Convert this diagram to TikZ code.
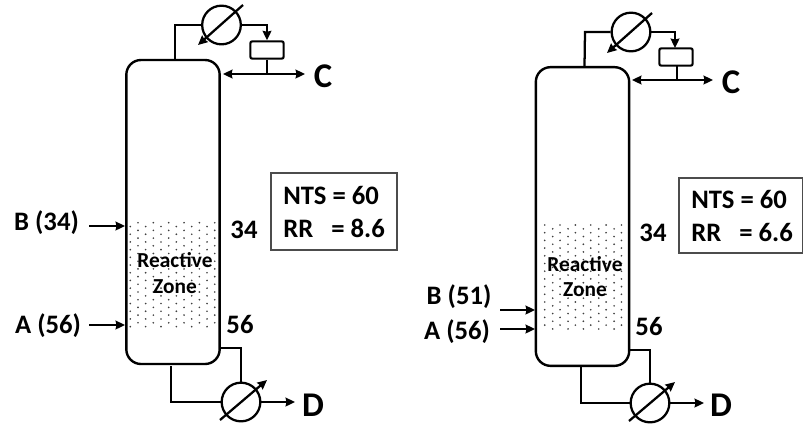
\documentclass[tikz,border=0pt]{standalone}
\usepackage{fontspec}
\setmainfont{Carlito}
\usetikzlibrary{arrows.meta}
\tikzset{
  line/.style={line width=1.7pt, black},
  flow/.style={line, -{Stealth[length=7pt,width=6.5pt,inset=0.6pt]}},
  bothflow/.style={line, {Stealth[length=7pt,width=6.5pt,inset=0.6pt]}-{Stealth[length=7pt,width=6.5pt,inset=0.6pt]}},
  column/.style={draw, line width=1.8pt, rounded corners=11pt, minimum width=70pt, inner sep=0pt},
  exchanger/.style={draw, line width=1.7pt, circle, minimum size=29pt, inner sep=0pt},
  drum/.style={draw, line width=1.6pt, rounded corners=1.5pt, minimum width=25pt, minimum height=13pt, inner sep=0pt},
  label/.style={font=\bfseries\fontsize{20}{24}\selectfont, inner sep=0pt},
  bigletter/.style={font=\bfseries\fontsize{26}{30}\selectfont, inner sep=0pt},
  zonetext/.style={font=\bfseries\fontsize{16}{19}\selectfont, inner sep=0pt},
  infobox/.style={draw=black!70, line width=1pt, inner sep=0pt},
}
% dotted reactive section: even rows start at #1, odd rows at #2, #4 = last dot of odd rows
\newcommand{\zonedots}[4]{%
  \foreach \row in {0,...,27} {
    \ifodd\row
      \foreach \col in {0,...,#4} {
        \fill[black!75] (#2+\col*15.35,#3+\row*3.85) circle (0.7pt);
      }
    \else
      \foreach \col in {0,...,5} {
        \fill[black!75] (#1+\col*15.35,#3+\row*3.85) circle (0.7pt);
      }
    \fi
  }
}
\begin{document}
\begin{tikzpicture}[x=0.75pt, y=-0.75pt]
    \useasboundingbox (0,0) rectangle (803,426);

    % left column
    \zonedots{138}{130.3}{222.7}{5}
    \node[column, minimum height=228pt] (col1) at (173,212) {};
    \node[exchanger] (cond1) at (221.5,25) {};
    \node[exchanger] (reb1) at (241,402) {};
    \node[drum] (drum1) at (267,50) {};
    \coordinate (top1) at (175,59.5);
    \coordinate (bot1) at (171,366);
    \coordinate (side1) at (220,348);
    \coordinate (tee1) at (267,74);
    \coordinate (in1a) at (125,325);
    \coordinate (in1b) at (125,226);
    \draw[line] (top1) -- (175,25) -- (cond1.west);
    \draw[flow] (cond1.east) -- (267,25) -- (drum1.north);
    \draw[line] (drum1.south) -- (tee1);
    \draw[bothflow] (223,74) -- (305,74);
    \draw[flow] (243,5) -- (198,45);
    \draw[line] (bot1) -- (171,402) -- (reb1.west);
    \draw[line] (side1) -- (241,348) -- (reb1.north);
    \draw[flow] (220,420) -- (267,380);
    \draw[flow] (reb1.east) -- (295,402);
    \draw[flow] (89,226) -- (in1b);
    \draw[flow] (89,325) -- (in1a);
    \node[bigletter] (c1) at (323,76) {C};
    \node[bigletter] (d1) at (313,405) {D};
    \node[label] (b1) at (46.5,223) {B (34)};
    \node[label] (a1) at (48,326) {A (56)};
    \node[label] (n1) at (244,230) {34};
    \node[label] (m1) at (240,324) {56};
    \node[zonetext] (r1) at (175,260) {Reactive};
    \node[zonetext] (z1) at (175,287) {Zone};
    \draw[infobox] (271,173) rectangle (397,250);
    \node[label, anchor=west] (nts1) at (283,195) {NTS = 60};
    \node[label, anchor=west] (rr1) at (283,228) {RR\ \ \ = 8.6};

    % right column
    \zonedots{544.7}{552.7}{225}{4}
    \node[column, minimum height=224pt] (col2) at (582.5,216.5) {};
    \node[exchanger] (cond2) at (631,32) {};
    \node[exchanger] (reb2) at (650,403) {};
    \node[drum] (drum2) at (676,57) {};
    \coordinate (top2) at (584.5,66.5);
    \coordinate (bot2) at (581,366);
    \coordinate (side2) at (629,350);
    \coordinate (tee2) at (677,80);
    \coordinate (in2a) at (535,329);
    \coordinate (in2b) at (535,310);
    \draw[line] (top2) -- (585,32) -- (cond2.west);
    \draw[flow] (cond2.east) -- (675,32) -- (675,48);
    \draw[line] (677,66) -- (tee2);
    \draw[bothflow] (632,80) -- (713,80);
    \draw[flow] (652,13) -- (607,53);
    \draw[line] (bot2) -- (581,403) -- (reb2.west);
    \draw[line] (side2) -- (650,350) -- (reb2.north);
    \draw[flow] (629,421) -- (675,382);
    \draw[flow] (reb2.east) -- (704,403);
    \draw[flow] (500,310) -- (in2b);
    \draw[flow] (500,329) -- (in2a);
    \node[bigletter] (c2) at (731,82) {C};
    \node[bigletter] (d2) at (721,405) {D};
    \node[label] (b2) at (459,297) {B (51)};
    \node[label] (a2) at (457,332) {A (56)};
    \node[label] (n2) at (653,233) {34};
    \node[label] (m2) at (649,326) {56};
    \node[zonetext] (r2) at (585,264) {Reactive};
    \node[zonetext] (z2) at (585,290) {Zone};
    \draw[infobox] (679,178) rectangle (802.5,253);
    \node[label, anchor=west] (nts2) at (691,199) {NTS = 60};
    \node[label, anchor=west] (rr2) at (691,232) {RR\ \ \ = 6.6};
\end{tikzpicture}
\end{document}
